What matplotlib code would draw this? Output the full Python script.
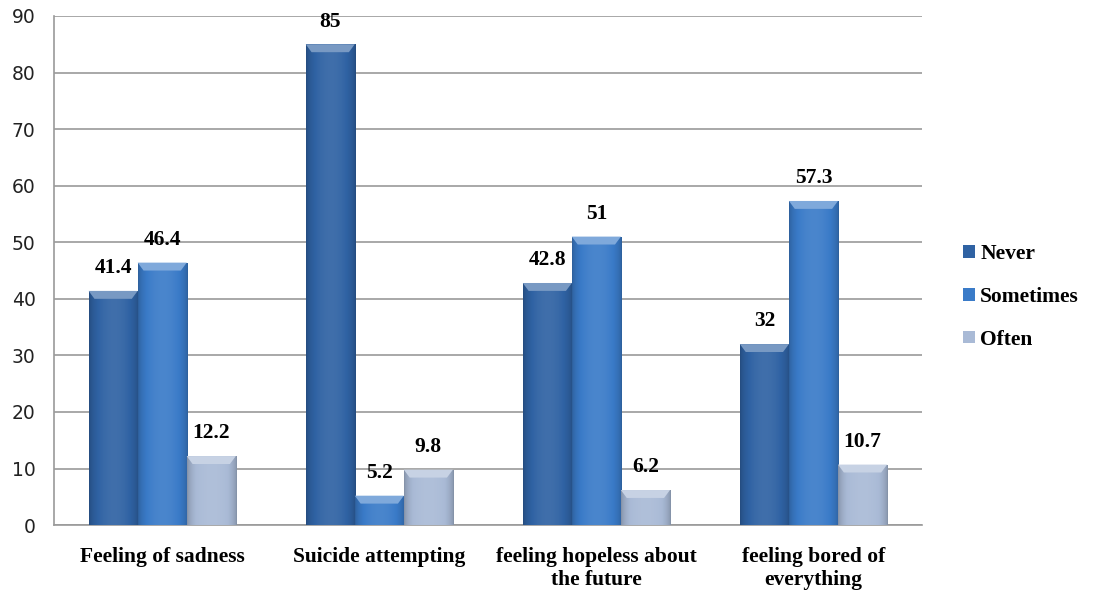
import numpy as np
import matplotlib.pyplot as plt
import matplotlib.colors as mcolors
from matplotlib.patches import Polygon

categories = ['Feeling of sadness', 'Suicide attempting',
              'feeling hopeless about\nthe future', 'feeling bored of\neverything']
series = ['Never', 'Sometimes', 'Often']
never = [41.4, 85, 42.8, 32]
sometimes = [46.4, 5.2, 51, 57.3]
often = [12.2, 9.8, 6.2, 10.7]
values = [never, sometimes, often]
colors = ['#2f62a3', '#3a7bc8', '#a9bad6']

fig = plt.figure(figsize=(10.95, 5.92), dpi=100)
ax = fig.add_axes([0.049, 0.113, 0.793, 0.86])

x = np.arange(len(categories))
width = 0.226

def shade(c, f):
    r = np.array(mcolors.to_rgb(c))
    if f < 1:
        return r * f
    return r + (1 - r) * (f - 1)

for i, (vals, col) in enumerate(zip(values, colors)):
    bars = ax.bar(x + (i - 1) * width, vals, width, color=col, label=series[i],
                  edgecolor='none', zorder=2)
    for b in bars:
        x0, y0 = b.get_x(), b.get_y()
        w, h = b.get_width(), b.get_height()
        # horizontal gradient for a rounded look
        t = np.linspace(0, 1, 64)
        prof = 0.78 + 0.32 * np.sin(np.pi * t) ** 0.6
        grad = np.array([shade(col, f) if f < 1 else shade(col, 1 + (f - 1) * 0.8) for f in prof])
        grad = np.clip(grad, 0, 1)[None, :, :]
        im = ax.imshow(grad, extent=[x0, x0 + w, y0, y0 + h], aspect='auto',
                       zorder=3, interpolation='bilinear')
        im.set_clip_path(b)
        # bevel on top
        bh = 1.4
        top = Polygon([[x0, y0 + h], [x0 + w, y0 + h], [x0 + w * 0.88, y0 + h - bh],
                       [x0 + w * 0.12, y0 + h - bh]], closed=True,
                      facecolor=np.clip(shade(col, 1.35), 0, 1), edgecolor='none', zorder=4)
        ax.add_patch(top)
        lbl = ('%g' % b.get_height())
        ax.text(x0 + w / 2, y0 + h + 4.0, lbl, ha='center', va='center',
                fontsize=15.5, fontweight='bold', family='Liberation Serif', zorder=5)

ax.set_xlim(-0.5, len(categories) - 0.5)
ax.set_ylim(0, 90)
ax.set_yticks(range(0, 91, 10))
ax.yaxis.grid(True, color='#9a9a9a', linewidth=1.2, zorder=0)
ax.set_axisbelow(True)
for s in ['top', 'right']:
    ax.spines[s].set_visible(False)
ax.spines['left'].set_color('#9a9a9a')
ax.spines['bottom'].set_color('#9a9a9a')
ax.spines['left'].set_linewidth(1.2)
ax.spines['bottom'].set_linewidth(1.2)
ax.tick_params(length=0)
ax.tick_params(axis='y', labelsize=13.5, pad=13, labelcolor='#222222')
ax.set_xticks(x)
ax.set_xticklabels(categories, fontsize=15.5, fontweight='bold', family='Liberation Serif',
                   linespacing=1.15)
ax.tick_params(axis='x', pad=16)

leg = ax.legend(loc='center left', bbox_to_anchor=(1.025, 0.448), frameon=False,
                prop={'family': 'Liberation Serif', 'weight': 'bold', 'size': 15.5},
                handlelength=0.55, handleheight=0.55, handletextpad=0.25, labelspacing=1.05)

fig.savefig('out.png', dpi=100)
